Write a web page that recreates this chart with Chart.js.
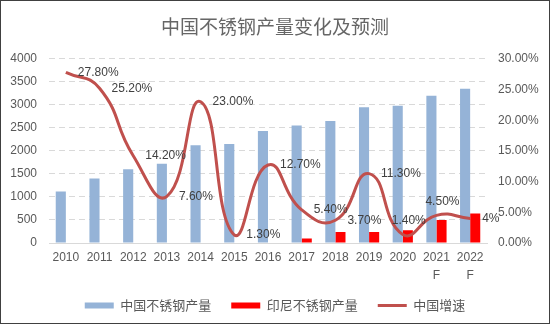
<!DOCTYPE html>
<html>
<head>
<meta charset="utf-8">
<script src="https://cdn.jsdelivr.net/npm/chart.js@4/dist/chart.umd.min.js"></script>
<style>
  html, body { margin: 0; padding: 0; background: #fff; }
  #wrap { position: absolute; left: 0; top: 0; width: 548px; height: 322px; border: 1px solid #404040; background: #fff; }
</style>
</head>
<body>
<div id="wrap"><canvas id="chart" width="548" height="322"></canvas></div>
<script>
const years = ["2010", "2011", "2012", "2013", "2014", "2015", "2016", "2017", "2018", "2019", "2020", ["2021", "F"], ["2022", "F"]];
const chinaOutput = [1120, 1400, 1600, 1720, 2120, 2150, 2430, 2550, 2650, 2950, 2980, 3200, 3350];
const indonesiaOutput = [null, null, null, null, null, null, null, 100, 240, 240, 275, 500, 640];
const chinaGrowth = [27.8, 25.2, 14.2, 7.6, 23.0, 1.3, 12.7, 5.4, 3.7, 11.3, 1.4, 4.5, 4];
const growthLabels = ["27.80%", "25.20%", "14.20%", "7.60%", "23.00%", "1.30%", "12.70%", "5.40%", "3.70%", "11.30%", "1.40%", "4.50%", "4%"];
const labelSide = ["right", "right", "right", "right", "right", "right", "right", "right", "right", "right", "above", "above", "right"];
const leftTicks = [0, 4000, 500];
const rightTicks = [0, 30, 5];

const textColor = "#595959";
const fontFamily = "'Liberation Sans', Arial, sans-serif";
const cjkFont = "'Noto Sans CJK SC', sans-serif";

// growth % labels next to the line points
const growthLabelPlugin = {
  id: "growthLabels",
  afterDatasetsDraw(chart) {
    const ctx = chart.ctx;
    const meta = chart.getDatasetMeta(2);
    ctx.save();
    ctx.font = "12px " + fontFamily;
    ctx.fillStyle = "#404040";
    ctx.textBaseline = "middle";
    meta.data.forEach((pt, i) => {
      if (labelSide[i] === "above") {
        ctx.textAlign = "center";
        ctx.fillText(growthLabels[i], pt.x + 6, pt.y - 14);
      } else {
        ctx.textAlign = "left";
        ctx.fillText(growthLabels[i], pt.x + 12, pt.y);
      }
    });
    ctx.restore();
  }
};

new Chart(document.getElementById("chart"), {
  type: "bar",
  data: {
    labels: years,
    datasets: [
      {
        label: "中国不锈钢产量",
        data: chinaOutput,
        backgroundColor: "#95B3D7",
        borderWidth: 0,
        yAxisID: "y",
        order: 1,
        pointStyle: "rect"
      },
      {
        label: "印尼不锈钢产量",
        data: indonesiaOutput,
        backgroundColor: "#FF0000",
        borderWidth: 0,
        yAxisID: "y",
        order: 1,
        pointStyle: "rect"
      },
      {
        type: "line",
        label: "中国增速",
        data: chinaGrowth,
        borderColor: "#C0504D",
        backgroundColor: "#C0504D",
        borderWidth: 3,
        pointRadius: 0,
        tension: 0.5,
        yAxisID: "y1",
        order: 0,
        pointStyle: "line"
      }
    ]
  },
  options: {
    responsive: false,
    animation: false,
    layout: { padding: { left: 0, right: 0, top: 0, bottom: 1 } },
    datasets: {
      bar: { categoryPercentage: 0.6, barPercentage: 1.0 }
    },
    plugins: {
      title: {
        display: true,
        text: "中国不锈钢产量变化及预测",
        color: "#666666",
        font: { family: cjkFont, size: 19, weight: "normal" },
        padding: { top: 14, bottom: 21 }
      },
      legend: {
        position: "bottom",
        labels: {
          usePointStyle: true,
          pointStyleWidth: 29,
          boxHeight: 6,
          padding: 20,
          color: textColor,
          font: { family: cjkFont, size: 13 },
          sort: (a, b) => a.datasetIndex - b.datasetIndex
        }
      },
      tooltip: { enabled: false }
    },
    scales: {
      x: {
        grid: { display: false, drawTicks: false },
        border: { display: true, color: "#d9d9d9", width: 1 },
        ticks: {
          color: textColor,
          padding: 6,
          maxRotation: 0,
          autoSkip: false,
          font: { family: fontFamily, size: 12, lineHeight: 1.5 }
        },
        afterFit(scale) { scale.height = 36; }
      },
      y: {
        position: "left",
        min: leftTicks[0],
        max: leftTicks[1],
        ticks: {
          stepSize: leftTicks[2],
          color: textColor,
          padding: 12,
          font: { family: fontFamily, size: 12 },
          callback: (v) => String(v)
        },
        grid: { color: "#d9d9d9", lineWidth: 1, drawTicks: false },
        border: { display: false, dash: [6, 4] },
        afterFit(scale) { scale.width = 48; }
      },
      y1: {
        position: "right",
        min: rightTicks[0],
        max: rightTicks[1],
        ticks: {
          stepSize: rightTicks[2],
          color: textColor,
          padding: 11,
          font: { family: fontFamily, size: 12 },
          callback: (v) => v.toFixed(2) + "%"
        },
        grid: { display: false, drawTicks: false },
        border: { display: false },
        afterFit(scale) { scale.width = 62; }
      }
    }
  },
  plugins: [growthLabelPlugin]
});
</script>
</body>
</html>
